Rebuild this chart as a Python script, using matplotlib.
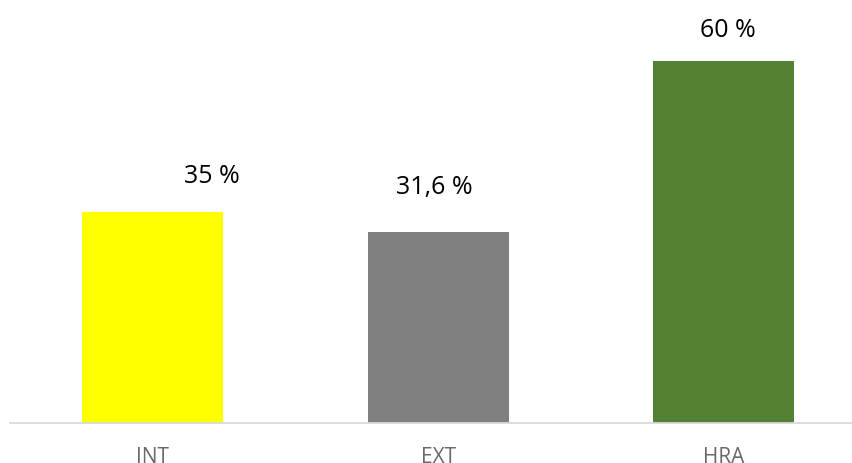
import matplotlib.pyplot as plt

categories = ['INT', 'EXT', 'HRA']
values = [35, 31.6, 60]
value_labels = ['35 %', '31,6 %', '60 %']

bar_colors = ['#ffff00', '#808080', '#548235']
# label offsets (pixels) from the top centre of each bar
label_dx = [59, -4, 4]
label_dy = [29, 38, 24]

plt.rcParams['font.family'] = ['Open Sans', 'DejaVu Sans']

fig = plt.figure(figsize=(8.53, 4.63), dpi=100)
ax = fig.add_axes([10 / 853, 40 / 463, 856.5 / 853, 422 / 463])

x = range(len(categories))
ax.bar(x, values, width=0.494, color=bar_colors, zorder=2)

for i, v in enumerate(values):
    ax.annotate(value_labels[i], xy=(i, v), xytext=(label_dx[i], label_dy[i]),
                textcoords='offset pixels', ha='center', va='baseline',
                fontsize=18, color='#000000')

ax.set_xlim(-0.5, 2.5)
ax.set_ylim(0, 70)
ax.set_yticks([])
ax.set_xticks(list(x))
ax.set_xticklabels(categories, fontsize=15, color='#6a6a6a')
ax.tick_params(axis='x', length=0, pad=17)

for side in ['top', 'right', 'left']:
    ax.spines[side].set_visible(False)
ax.spines['bottom'].set_color('#d9d9d9')
ax.spines['bottom'].set_linewidth(1.3)

fig.savefig('out.png', dpi=100)
